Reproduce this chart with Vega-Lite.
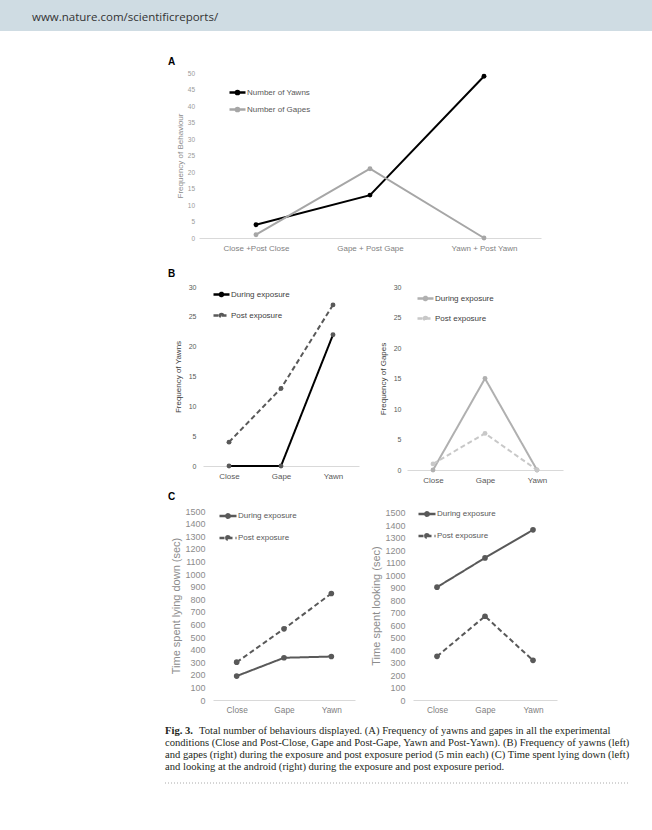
{
  "$schema": "https://vega.github.io/schema/vega-lite/v6.json",
  "padding": 0,
  "background": "white",
  "spacing": 0,
  "resolve": {"scale": {"color": "independent", "strokeDash": "independent"}},
  "config": {
    "view": {"stroke": null},
    "font": "Liberation Sans",
    "axis": {"grid": false, "ticks": false, "labelFont": "Liberation Sans", "titleFont": "Liberation Sans", "titleFontWeight": "normal", "labelOverlap": false},
    "legend": {"labelFont": "Liberation Sans"}
  },
  "datasets": {
    "header": [{"site": "www.nature.com/scientificreports/"}],
    "a": [
      {"cond": "Close +Post Close", "series": "Number of Yawns", "v": 4},
      {"cond": "Gape + Post Gape", "series": "Number of Yawns", "v": 13},
      {"cond": "Yawn + Post Yawn", "series": "Number of Yawns", "v": 49},
      {"cond": "Close +Post Close", "series": "Number of Gapes", "v": 1},
      {"cond": "Gape + Post Gape", "series": "Number of Gapes", "v": 21},
      {"cond": "Yawn + Post Yawn", "series": "Number of Gapes", "v": 0}
    ],
    "b1": [
      {"cond": "Close", "period": "During exposure", "v": 0},
      {"cond": "Gape", "period": "During exposure", "v": 0},
      {"cond": "Yawn", "period": "During exposure", "v": 22},
      {"cond": "Close", "period": "Post exposure", "v": 4},
      {"cond": "Gape", "period": "Post exposure", "v": 13},
      {"cond": "Yawn", "period": "Post exposure", "v": 27}
    ],
    "b2": [
      {"cond": "Close", "period": "During exposure", "v": 0},
      {"cond": "Gape", "period": "During exposure", "v": 15},
      {"cond": "Yawn", "period": "During exposure", "v": 0},
      {"cond": "Close", "period": "Post exposure", "v": 1},
      {"cond": "Gape", "period": "Post exposure", "v": 6},
      {"cond": "Yawn", "period": "Post exposure", "v": 0}
    ],
    "c1": [
      {"cond": "Close", "period": "During exposure", "v": 190},
      {"cond": "Gape", "period": "During exposure", "v": 335},
      {"cond": "Yawn", "period": "During exposure", "v": 345},
      {"cond": "Close", "period": "Post exposure", "v": 300},
      {"cond": "Gape", "period": "Post exposure", "v": 565},
      {"cond": "Yawn", "period": "Post exposure", "v": 845}
    ],
    "c2": [
      {"cond": "Close", "period": "During exposure", "v": 905},
      {"cond": "Gape", "period": "During exposure", "v": 1140},
      {"cond": "Yawn", "period": "During exposure", "v": 1365},
      {"cond": "Close", "period": "Post exposure", "v": 350},
      {"cond": "Gape", "period": "Post exposure", "v": 672},
      {"cond": "Yawn", "period": "Post exposure", "v": 318}
    ],
    "caption": [
      {"line": 1, "lead": "Fig. 3.", "text": "Total number of behaviours displayed. (A) Frequency of yawns and gapes in all the experimental"},
      {"line": 2, "lead": "", "text": "conditions (Close and Post-Close, Gape and Post-Gape, Yawn and Post-Yawn). (B) Frequency of yawns (left)"},
      {"line": 3, "lead": "", "text": "and gapes (right) during the exposure and post exposure period (5 min each) (C) Time spent lying down (left)"},
      {"line": 4, "lead": "", "text": "and looking at the android (right) during the exposure and post exposure period."}
    ]
  },
  "vconcat": [
    {
      "width": 652, "height": 31,
      "view": {"fill": "#cfdce3", "stroke": null},
      "data": {"name": "header"},
      "mark": {"type": "text", "align": "left", "baseline": "middle", "dx": 32, "dy": 2, "font": "Open Sans", "fontSize": 11.5, "color": "#333333"},
      "encoding": {
        "text": {"field": "site"},
        "x": {"datum": 0, "type": "quantitative", "scale": {"domain": [0, 1]}, "axis": null}
      }
    },
    {"width": 10, "height": 26, "data": {"values": []}, "mark": "point", "encoding": {}},
    {
      "spacing": 44, "bounds": "flush",
      "resolve": {"scale": {"color": "independent", "strokeDash": "independent"}},
      "hconcat": [
        {"width": 155, "height": 196, "data": {"values": []}, "mark": "point", "encoding": {}},
        {
          "width": 342, "height": 165,
          "title": {"text": "A", "anchor": "start", "frame": "group", "dx": -31, "offset": 3, "fontSize": 10, "fontWeight": "bold", "color": "#000000"},
          "data": {"name": "a"},
          "encoding": {
            "x": {"field": "cond", "type": "nominal", "scale": {"type": "point", "domain": ["Close +Post Close", "Gape + Post Gape", "Yawn + Post Yawn"], "padding": 0.5},
                  "axis": {"title": null, "labelAngle": 0, "labelFontSize": 8, "labelColor": "#7f7f7f", "labelPadding": 6, "domainColor": "#d9d9d9", "domainWidth": 1}},
            "y": {"field": "v", "type": "quantitative", "scale": {"domain": [0, 50], "nice": false},
                  "axis": {"values": [0, 5, 10, 15, 20, 25, 30, 35, 40, 45, 50], "domain": false, "title": "Frequency of Behaviour", "titleFontSize": 8, "titleColor": "#8c8c8c", "titlePadding": 3, "labelFontSize": 6.5, "labelColor": "#9a9a9a", "labelPadding": 4.5}},
            "color": {"field": "series", "type": "nominal", "scale": {"domain": ["Number of Yawns", "Number of Gapes"], "range": ["#000000", "#a6a6a6"]},
                      "legend": {"orient": "none", "legendX": 29, "legendY": 10, "title": null, "padding": 0, "symbolType": "M-1,0H1M-0.2,0A0.2,0.2 0 1 1 0.2,0A0.2,0.2 0 1 1 -0.2,0", "symbolSize": 256, "symbolStrokeWidth": 2.5, "labelFontSize": 8, "labelColor": "#595959", "labelOffset": 0, "rowPadding": -1}}
          },
          "layer": [
            {"mark": {"type": "line", "strokeWidth": 2}},
            {"mark": {"type": "point", "filled": true, "size": 24, "opacity": 1}}
          ]
        }
      ]
    },
    {
      "spacing": 48, "bounds": "flush",
      "resolve": {"scale": {"color": "independent", "strokeDash": "independent"}},
      "hconcat": [
        {"width": 155, "height": 205, "data": {"values": []}, "mark": "point", "encoding": {}},
        {
          "width": 156, "height": 179,
          "title": {"text": "B", "anchor": "start", "frame": "group", "dx": -35, "offset": 4, "fontSize": 10, "fontWeight": "bold", "color": "#000000"},
          "data": {"name": "b1"},
          "encoding": {
            "x": {"field": "cond", "type": "nominal", "scale": {"type": "point", "domain": ["Close", "Gape", "Yawn"], "padding": 0.5},
                  "axis": {"title": null, "labelAngle": 0, "labelFontSize": 8, "labelColor": "#595959", "labelPadding": 6, "domainColor": "#d9d9d9", "domainWidth": 1}},
            "y": {"field": "v", "type": "quantitative", "scale": {"domain": [0, 30], "nice": false},
                  "axis": {"values": [0, 5, 10, 15, 20, 25, 30], "domain": false, "title": "Frequency of Yawns", "titleFontSize": 8, "titleColor": "#404040", "titlePadding": 6, "labelFontSize": 7, "labelColor": "#595959", "labelPadding": 7}}
          },
          "layer": [
            {"mark": {"type": "line", "strokeWidth": 2},
             "encoding": {
               "color": {"field": "period", "type": "nominal", "scale": {"domain": ["During exposure", "Post exposure"], "range": ["#000000", "#595959"]},
                         "legend": {"orient": "none", "legendX": 9, "legendY": -2, "title": null, "padding": 0, "symbolType": "M-1,0H1M-0.2,0A0.2,0.2 0 1 1 0.2,0A0.2,0.2 0 1 1 -0.2,0", "symbolSize": 256, "symbolStrokeWidth": 2.5, "labelFontSize": 8, "labelColor": "#404040", "labelOffset": 0, "rowPadding": 4}},
               "strokeDash": {"field": "period", "type": "nominal", "scale": {"domain": ["During exposure", "Post exposure"], "range": [[1, 0], [5, 3]]},
                         "legend": {"orient": "none", "legendX": 9, "legendY": -2, "title": null, "padding": 0, "symbolType": "M-1,0H1M-0.2,0A0.2,0.2 0 1 1 0.2,0A0.2,0.2 0 1 1 -0.2,0", "symbolSize": 256, "symbolStrokeWidth": 2.5, "labelFontSize": 8, "labelColor": "#404040", "labelOffset": 0, "rowPadding": 4}}
             }},
            {"mark": {"type": "point", "filled": true, "size": 24, "opacity": 1, "color": "#595959"}}
          ]
        },
        {
          "width": 156, "height": 183,
          "data": {"name": "b2"},
          "encoding": {
            "x": {"field": "cond", "type": "nominal", "scale": {"type": "point", "domain": ["Close", "Gape", "Yawn"], "padding": 0.5},
                  "axis": {"title": null, "labelAngle": 0, "labelFontSize": 8, "labelColor": "#595959", "labelPadding": 6, "domainColor": "#d9d9d9", "domainWidth": 1}},
            "y": {"field": "v", "type": "quantitative", "scale": {"domain": [0, 30], "nice": false},
                  "axis": {"values": [0, 5, 10, 15, 20, 25, 30], "domain": false, "title": "Frequency of Gapes", "titleFontSize": 8, "titleColor": "#404040", "titlePadding": 6, "labelFontSize": 7, "labelColor": "#595959", "labelPadding": 6}},
            "color": {"field": "period", "type": "nominal", "scale": {"domain": ["During exposure", "Post exposure"], "range": ["#b0b0b0", "#c8c8c8"]},
                      "legend": {"orient": "none", "legendX": 9, "legendY": 2, "title": null, "padding": 0, "symbolType": "M-1,0H1M-0.2,0A0.2,0.2 0 1 1 0.2,0A0.2,0.2 0 1 1 -0.2,0", "symbolSize": 256, "symbolStrokeWidth": 2.5, "labelFontSize": 8, "labelColor": "#404040", "labelOffset": 0, "rowPadding": 3}}
          },
          "layer": [
            {"mark": {"type": "line", "strokeWidth": 2},
             "encoding": {
               "strokeDash": {"field": "period", "type": "nominal", "scale": {"domain": ["During exposure", "Post exposure"], "range": [[1, 0], [5, 3]]},
                         "legend": {"orient": "none", "legendX": 9, "legendY": 2, "title": null, "padding": 0, "symbolType": "M-1,0H1M-0.2,0A0.2,0.2 0 1 1 0.2,0A0.2,0.2 0 1 1 -0.2,0", "symbolSize": 256, "symbolStrokeWidth": 2.5, "labelFontSize": 8, "labelColor": "#404040", "labelOffset": 0, "rowPadding": 3}}
             }},
            {"mark": {"type": "point", "filled": true, "size": 24, "opacity": 1}}
          ]
        }
      ]
    },
    {
      "spacing": 58, "bounds": "flush",
      "resolve": {"scale": {"color": "independent", "strokeDash": "independent"}},
      "hconcat": [
        {"width": 155, "height": 204, "data": {"values": []}, "mark": "point", "encoding": {}},
        {
          "width": 142, "height": 189,
          "title": {"text": "C", "anchor": "start", "frame": "group", "dx": -45, "offset": 4, "fontSize": 10, "fontWeight": "bold", "color": "#000000"},
          "data": {"name": "c1"},
          "encoding": {
            "x": {"field": "cond", "type": "nominal", "scale": {"type": "point", "domain": ["Close", "Gape", "Yawn"], "padding": 0.5},
                  "axis": {"title": null, "labelAngle": 0, "labelFontSize": 8.3, "labelColor": "#7f7f7f", "labelPadding": 5, "domainColor": "#d9d9d9", "domainWidth": 1}},
            "y": {"field": "v", "type": "quantitative", "scale": {"domain": [0, 1500], "nice": false},
                  "axis": {"values": [0, 100, 200, 300, 400, 500, 600, 700, 800, 900, 1000, 1100, 1200, 1300, 1400, 1500], "format": "d", "domain": false, "title": "Time spent lying down (sec)", "titleFontSize": 11, "titleColor": "#8c8c8c", "titlePadding": 3, "labelFontSize": 9, "labelColor": "#8c8c8c", "labelPadding": 8}}
          },
          "layer": [
            {"mark": {"type": "line", "strokeWidth": 2},
             "encoding": {
               "color": {"field": "period", "type": "nominal", "scale": {"domain": ["During exposure", "Post exposure"], "range": ["#595959", "#595959"]},
                         "legend": {"orient": "none", "legendX": 5, "legendY": -5, "title": null, "padding": 0, "symbolType": "M-1,0H1M-0.2,0A0.2,0.2 0 1 1 0.2,0A0.2,0.2 0 1 1 -0.2,0", "symbolSize": 289, "symbolStrokeWidth": 2.5, "labelFontSize": 8, "labelColor": "#595959", "labelOffset": 0, "rowPadding": 5}},
               "strokeDash": {"field": "period", "type": "nominal", "scale": {"domain": ["During exposure", "Post exposure"], "range": [[1, 0], [5, 3]]},
                         "legend": {"orient": "none", "legendX": 5, "legendY": -5, "title": null, "padding": 0, "symbolType": "M-1,0H1M-0.2,0A0.2,0.2 0 1 1 0.2,0A0.2,0.2 0 1 1 -0.2,0", "symbolSize": 289, "symbolStrokeWidth": 2.5, "labelFontSize": 8, "labelColor": "#595959", "labelOffset": 0, "rowPadding": 5}}
             }},
            {"mark": {"type": "point", "filled": true, "size": 32, "opacity": 1, "color": "#595959"}}
          ]
        },
        {
          "width": 144, "height": 189,
          "data": {"name": "c2"},
          "encoding": {
            "x": {"field": "cond", "type": "nominal", "scale": {"type": "point", "domain": ["Close", "Gape", "Yawn"], "padding": 0.5},
                  "axis": {"title": null, "labelAngle": 0, "labelFontSize": 8.3, "labelColor": "#7f7f7f", "labelPadding": 5, "domainColor": "#d9d9d9", "domainWidth": 1}},
            "y": {"field": "v", "type": "quantitative", "scale": {"domain": [0, 1516], "nice": false},
                  "axis": {"values": [0, 100, 200, 300, 400, 500, 600, 700, 800, 900, 1000, 1100, 1200, 1300, 1400, 1500], "format": "d", "domain": false, "title": "Time spent looking (sec)", "titleFontSize": 11, "titleColor": "#8c8c8c", "titlePadding": 3, "labelFontSize": 9, "labelColor": "#8c8c8c", "labelPadding": 8}}
          },
          "layer": [
            {"mark": {"type": "line", "strokeWidth": 2},
             "encoding": {
               "color": {"field": "period", "type": "nominal", "scale": {"domain": ["During exposure", "Post exposure"], "range": ["#595959", "#595959"]},
                         "legend": {"orient": "none", "legendX": 4, "legendY": -7, "title": null, "padding": 0, "symbolType": "M-1,0H1M-0.2,0A0.2,0.2 0 1 1 0.2,0A0.2,0.2 0 1 1 -0.2,0", "symbolSize": 289, "symbolStrokeWidth": 2.5, "labelFontSize": 8, "labelColor": "#595959", "labelOffset": 0, "rowPadding": 5}},
               "strokeDash": {"field": "period", "type": "nominal", "scale": {"domain": ["During exposure", "Post exposure"], "range": [[1, 0], [5, 3]]},
                         "legend": {"orient": "none", "legendX": 4, "legendY": -7, "title": null, "padding": 0, "symbolType": "M-1,0H1M-0.2,0A0.2,0.2 0 1 1 0.2,0A0.2,0.2 0 1 1 -0.2,0", "symbolSize": 289, "symbolStrokeWidth": 2.5, "labelFontSize": 8, "labelColor": "#595959", "labelOffset": 0, "rowPadding": 5}}
             }},
            {"mark": {"type": "point", "filled": true, "size": 32, "opacity": 1, "color": "#595959"}}
          ]
        }
      ]
    },
    {
      "spacing": 10, "bounds": "flush",
      "hconcat": [
        {"width": 155, "height": 1, "data": {"values": []}, "mark": "point", "encoding": {}},
        {
          "width": 465, "height": 68,
          "layer": [
            {
              "data": {"name": "caption"},
              "transform": [{"filter": "datum.line > 1"}],
              "mark": {"type": "text", "align": "left", "baseline": "middle", "font": "Liberation Serif", "fontSize": 10.6, "color": "#231f20"},
              "encoding": {
                "text": {"field": "text"},
                "x": {"datum": 0, "type": "quantitative", "scale": {"domain": [0, 1]}, "axis": null},
                "y": {"field": "line", "type": "quantitative", "scale": {"domain": [-0.3333, 5.3333], "reverse": true, "nice": false, "zero": false}, "axis": null}
              }
            },
            {
              "data": {"name": "caption"},
              "transform": [{"filter": "datum.line == 1"}],
              "mark": {"type": "text", "align": "left", "baseline": "middle", "font": "Liberation Serif", "fontSize": 10.6, "fontWeight": "bold", "color": "#231f20"},
              "encoding": {
                "text": {"field": "lead"},
                "x": {"datum": 0, "type": "quantitative"},
                "y": {"field": "line", "type": "quantitative"}
              }
            },
            {
              "data": {"name": "caption"},
              "transform": [{"filter": "datum.line == 1"}],
              "mark": {"type": "text", "align": "left", "baseline": "middle", "font": "Liberation Serif", "fontSize": 10.6, "color": "#231f20", "dx": 34},
              "encoding": {
                "text": {"field": "text"},
                "x": {"datum": 0, "type": "quantitative"},
                "y": {"field": "line", "type": "quantitative"}
              }
            },
            {
              "data": {"values": [{"edge": 5.3333}]},
              "mark": {"type": "rule", "strokeDash": [1, 2], "color": "#aaaaaa", "strokeWidth": 1},
              "encoding": {
                "x": {"datum": 0, "type": "quantitative"},
                "x2": {"datum": 1},
                "y": {"field": "edge", "type": "quantitative"}
              }
            }
          ]
        }
      ]
    }
  ]
}
